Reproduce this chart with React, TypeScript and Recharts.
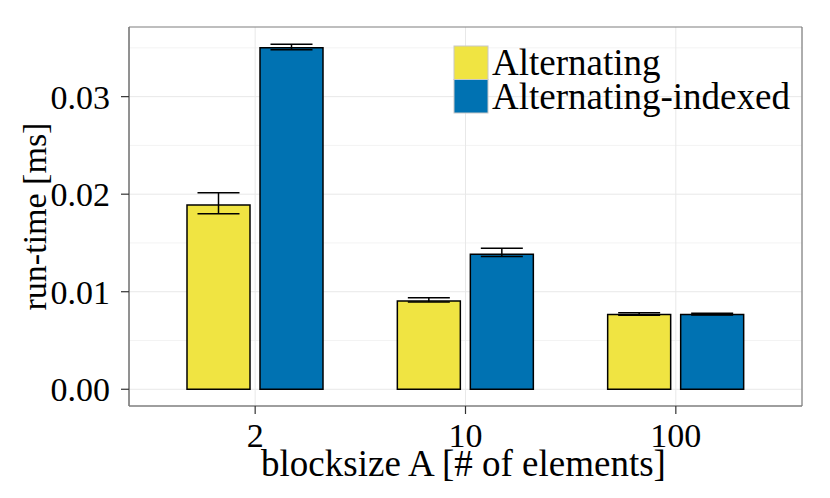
import React from 'react';
import { BarChart, Bar, XAxis, YAxis, CartesianGrid, ErrorBar, Legend } from 'recharts';

const categories = ['2', '10', '100'];
const alternating = [0.0189, 0.00904, 0.00767];
const alternatingLow = [0.0180, 0.00894, 0.0076];
const alternatingHigh = [0.02014, 0.00938, 0.00784];
const indexed = [0.0350, 0.01384, 0.00767];
const indexedLow = [0.0348, 0.0136, 0.00762];
const indexedHigh = [0.03537, 0.01446, 0.0078];
const majorTicks = [0, 0.01, 0.02, 0.03];
const minorTicks = [0.005, 0.015, 0.025, 0.035];
const seriesNames = ['Alternating', 'Alternating-indexed'];
const seriesColors = ['#F0E442', '#0072B2'];
const yDomain: [number, number] = [-0.001716, 0.03714];

const data = categories.map((c, i) => ({
  block: c,
  alt: alternating[i],
  altErr: [alternating[i] - alternatingLow[i], alternatingHigh[i] - alternating[i]],
  idx: indexed[i],
  idxErr: [indexed[i] - indexedLow[i], indexedHigh[i] - indexed[i]],
}));

const FONT = '"Liberation Serif", "DejaVu Serif", serif';
const BORDER = '#7f7f7f';

const LegendBox = () => (
  <svg width={370} height={84} style={{ display: 'block', overflow: 'visible' }}>
    {seriesNames.map((name, i) => (
      <g key={name}>
        <rect x={2} y={8 + i * 33.5} width={34} height={33.5} fill={seriesColors[i]} stroke="#c8c8c8" strokeWidth={1} />
        <text x={40} y={37 + i * 33.5} fontSize={37} fontFamily={FONT} fill="#000">{name}</text>
      </g>
    ))}
  </svg>
);

export default function App() {
  return (
    <div style={{ position: 'absolute', left: 0, top: 0, background: '#fff' }}>
      <BarChart
        width={830}
        height={498}
        data={data}
        margin={{ top: 27, right: 28, left: 0, bottom: 0 }}
        barSize={63}
        barGap={10}
      >
        <CartesianGrid horizontalValues={minorTicks} vertical={false} stroke="#f3f3f3" strokeWidth={1} />
        <CartesianGrid horizontalValues={majorTicks} stroke="#e8e8e8" strokeWidth={1} />
        <CartesianGrid
          horizontalValues={yDomain}
          verticalCoordinatesGenerator={(p: any) => [p.offset.left, p.offset.left + p.offset.width]}
          stroke={BORDER}
          strokeWidth={1.2}
        />
        <XAxis
          dataKey="block"
          padding={{ left: 21, right: 21 }}
          height={92}
          tickSize={8}
          tickMargin={9}
          interval={0}
          tick={{ fontSize: 34, fill: '#000', fontFamily: FONT }}
          tickLine={{ stroke: '#333', strokeWidth: 1.2 }}
          axisLine={{ stroke: BORDER, strokeWidth: 1.2 }}
          label={(props: any) => {
            const vb = props.viewBox;
            return (
              <text x={vb.x + vb.width / 2 - 2} y={vb.y + 70} textAnchor="middle" fontSize={37} fontFamily={FONT} fill="#000">
                blocksize A [# of elements]
              </text>
            );
          }}
        />
        <YAxis
          type="number"
          domain={yDomain}
          allowDataOverflow
          ticks={majorTicks}
          interval={0}
          tickFormatter={(v: number) => v.toFixed(2)}
          width={129}
          tickSize={8}
          tickMargin={11}
          tick={{ fontSize: 34, fill: '#000', fontFamily: FONT }}
          tickLine={{ stroke: '#333', strokeWidth: 1.2 }}
          axisLine={{ stroke: BORDER, strokeWidth: 1.2 }}
          label={(props: any) => {
            const vb = props.viewBox;
            const cx = 46;
            const cy = vb.y + vb.height / 2;
            return (
              <text x={cx} y={cy} transform={`rotate(-90 ${cx} ${cy})`} textAnchor="middle" fontSize={34} fontFamily={FONT} fill="#000">
                run-time [ms]
              </text>
            );
          }}
        />
        <Bar dataKey="alt" name={seriesNames[0]} fill={seriesColors[0]} stroke="#000" strokeWidth={1.5} isAnimationActive={false}>
          <ErrorBar dataKey="altErr" direction="y" width={21} stroke="#000" strokeWidth={1.5} isAnimationActive={false} />
        </Bar>
        <Bar dataKey="idx" name={seriesNames[1]} fill={seriesColors[1]} stroke="#000" strokeWidth={1.5} isAnimationActive={false}>
          <ErrorBar dataKey="idxErr" direction="y" width={21} stroke="#000" strokeWidth={1.5} isAnimationActive={false} />
        </Bar>
        <Legend
          layout="vertical"
          align="center"
          verticalAlign="middle"
          wrapperStyle={{ position: 'absolute', left: 452, top: 38, width: 370, height: 84 }}
          content={() => <LegendBox />}
        />
      </BarChart>
    </div>
  );
}
